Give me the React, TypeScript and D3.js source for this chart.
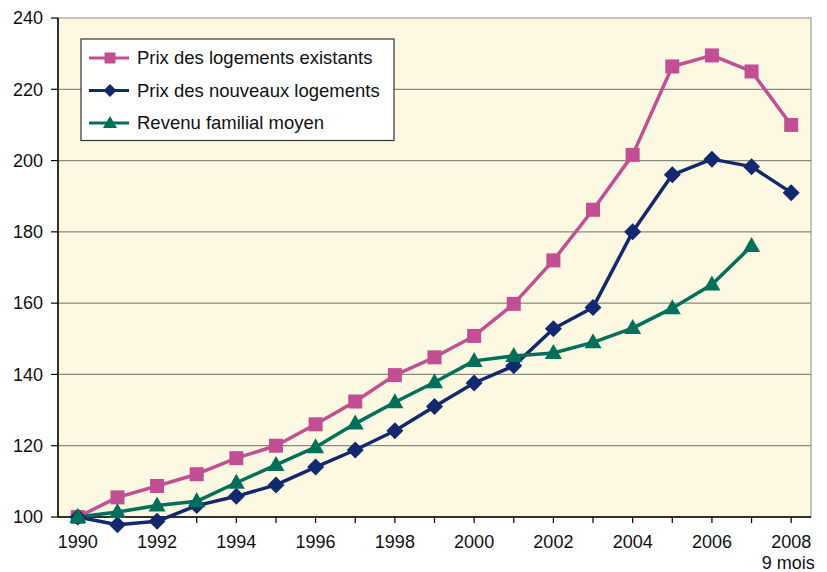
import React from "react";
import * as d3 from "d3";

const years = ["1990","1991","1992","1993","1994","1995","1996","1997","1998","1999","2000","2001","2002","2003","2004","2005","2006","2007","2008"];
const tickYears = ["1990","1992","1994","1996","1998","2000","2002","2004","2006","2008"];
const existingPrices = [100,105.5,108.7,112,116.5,120,126,132.4,139.8,144.8,150.8,159.8,172,186.2,201.6,226.4,229.5,225,210];
const newPrices = [100,97.8,98.8,103.2,105.8,109,114,118.8,124.2,131,137.6,142.4,152.8,158.8,180,196,200.4,198.3,191];
const income: (number | null)[] = [100,101.4,103.2,104.4,109.6,114.6,119.6,126.2,132.2,137.8,143.8,145.2,146,149,153,158.6,165.2,176,null];
const yTicks = [100,120,140,160,180,200,220,240];
const seriesNames = ["Prix des logements existants","Prix des nouveaux logements","Revenu familial moyen"];
const colors = ["#C24F93","#13296F","#00705A"];

const W = 827, H = 572;
const L = 58, R = 811, T = 18, B = 517;

function Marker({ kind, x, y, color }: { kind: number; x: number; y: number; color: string }) {
  if (kind === 0) return <rect x={x - 7} y={y - 7} width={14} height={14} fill={color} />;
  if (kind === 1) return <path d={`M${x},${y - 8.5}L${x + 8.5},${y}L${x},${y + 8.5}L${x - 8.5},${y}Z`} fill={color} />;
  return <path d={`M${x},${y - 9}L${x + 8.5},${y + 6}L${x - 8.5},${y + 6}Z`} fill={color} />;
}

export default function App() {
  const x = d3.scaleBand().domain(years).range([L, R]);
  const cx = (yr: string) => (x(yr) as number) + x.bandwidth() / 2;
  const y = d3.scaleLinear().domain([100, 240]).range([B, T]);
  const data = [existingPrices, newPrices, income];
  const line = d3.line<[string, number | null]>()
    .defined((d) => d[1] != null)
    .x((d) => cx(d[0]))
    .y((d) => y(d[1] as number));
  const font = "'Liberation Sans', Arial, Helvetica, sans-serif";
  return (
    <svg width={W} height={H} style={{ position: "absolute", left: 0, top: 0 }} fontFamily={font}>
      <rect x={0} y={0} width={W} height={H} fill="#fff" />
      <rect x={L} y={T} width={R - L} height={B - T} fill="#FDF8E1" stroke="#8a8a8a" strokeWidth={1} />
      {yTicks.filter((t) => t !== 100 && t !== 240).map((t) => (
        <line key={t} x1={L} x2={R} y1={y(t)} y2={y(t)} stroke="#8a8a80" strokeWidth={1.2} />
      ))}
      {/* axes */}
      <line x1={L} x2={L} y1={T} y2={B} stroke="#000" strokeWidth={1.5} />
      <line x1={L} x2={R} y1={B} y2={B} stroke="#000" strokeWidth={1.5} />
      {yTicks.map((t) => (
        <g key={t}>
          <line x1={L - 7} x2={L} y1={y(t)} y2={y(t)} stroke="#000" strokeWidth={1.2} />
          <text x={43} y={y(t)} dy="0.35em" textAnchor="end" fontSize={18} fill="#111">{t}</text>
        </g>
      ))}
      {years.map((yr) => (
        <line key={yr} x1={cx(yr)} x2={cx(yr)} y1={B} y2={B + 6} stroke="#000" strokeWidth={1.2} />
      ))}
      {tickYears.map((yr) => (
        <text key={yr} x={cx(yr)} y={548} textAnchor="middle" fontSize={18} fill="#111">{yr}</text>
      ))}
      <text x={cx("2008") - 3} y={569} textAnchor="middle" fontSize={18} fill="#111">9 mois</text>
      {/* series */}
      {data.map((vals, i) => (
        <g key={i}>
          <path d={line(years.map((yr, j) => [yr, vals[j]] as [string, number | null])) || ""} fill="none" stroke={colors[i]} strokeWidth={3.5} strokeLinejoin="round" />
        </g>
      ))}
      {data.map((vals, i) => (
        <g key={"m" + i}>
          {years.map((yr, j) => vals[j] == null ? null : (
            <Marker key={yr} kind={i} x={cx(yr)} y={y(vals[j] as number)} color={colors[i]} />
          ))}
        </g>
      ))}
      {/* legend */}
      <rect x={81} y={39} width={313} height={101.5} fill="#fff" stroke="#333" strokeWidth={1.2} />
      {seriesNames.map((n, i) => {
        const ly = 58 + i * 32.5;
        return (
          <g key={n}>
            <line x1={89} x2={129} y1={ly} y2={ly} stroke={colors[i]} strokeWidth={3} />
            {i === 0 && <rect x={104.5} y={ly - 5.5} width={11} height={11} fill={colors[i]} />}
            {i === 1 && <path d={`M110,${ly - 6.5}L116.5,${ly}L110,${ly + 6.5}L103.5,${ly}Z`} fill={colors[i]} />}
            {i === 2 && <path d={`M110,${ly - 7}L117,${ly + 5}L103,${ly + 5}Z`} fill={colors[i]} />}
            <text x={137} y={ly} dy="0.35em" fontSize={18.5} fill="#111">{n}</text>
          </g>
        );
      })}
    </svg>
  );
}
